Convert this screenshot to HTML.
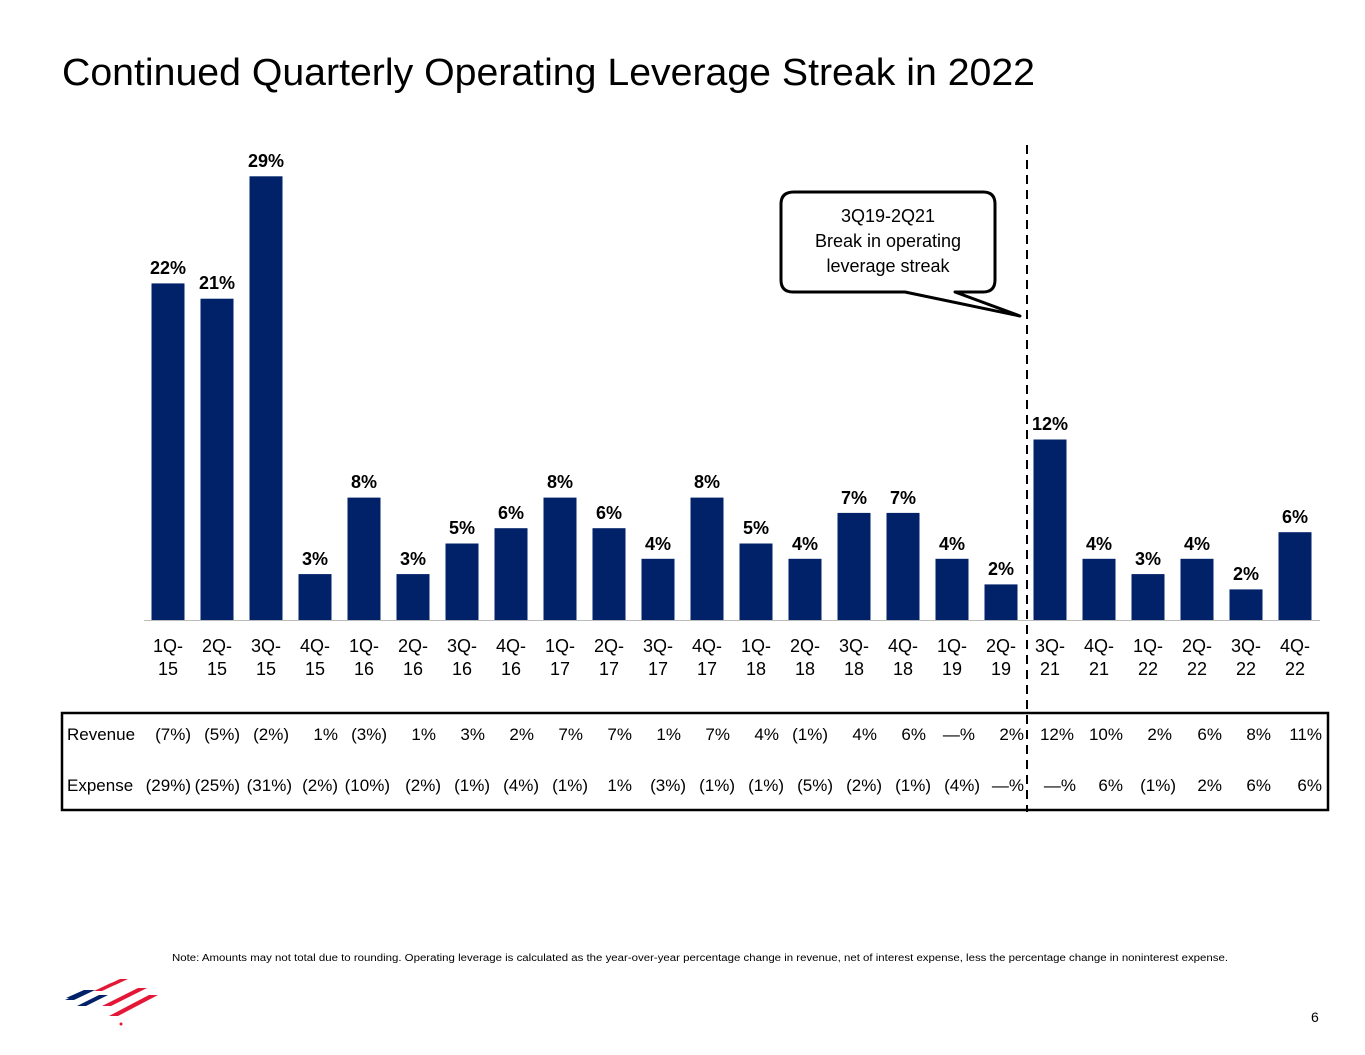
<!DOCTYPE html>
<html><head><meta charset="utf-8"><style>
body{margin:0;background:#fff;}
svg{display:block;font-family:"Liberation Sans",sans-serif;}
</style></head><body>
<svg width="1365" height="1055" viewBox="0 0 1365 1055">
<text x="62" y="85" font-size="38" fill="#000" textLength="973" lengthAdjust="spacingAndGlyphs">Continued Quarterly Operating Leverage Streak in 2022</text>
<g fill="#012169">
<rect x="151.5" y="283.4" width="33" height="336.6"/>
<rect x="200.5" y="298.7" width="33" height="321.3"/>
<rect x="249.5" y="176.3" width="33" height="443.7"/>
<rect x="298.5" y="574.1" width="33" height="45.9"/>
<rect x="347.5" y="497.6" width="33" height="122.4"/>
<rect x="396.5" y="574.1" width="33" height="45.9"/>
<rect x="445.5" y="543.5" width="33" height="76.5"/>
<rect x="494.5" y="528.2" width="33" height="91.8"/>
<rect x="543.5" y="497.6" width="33" height="122.4"/>
<rect x="592.5" y="528.2" width="33" height="91.8"/>
<rect x="641.5" y="558.8" width="33" height="61.2"/>
<rect x="690.5" y="497.6" width="33" height="122.4"/>
<rect x="739.5" y="543.5" width="33" height="76.5"/>
<rect x="788.5" y="558.8" width="33" height="61.2"/>
<rect x="837.5" y="512.9" width="33" height="107.1"/>
<rect x="886.5" y="512.9" width="33" height="107.1"/>
<rect x="935.5" y="558.8" width="33" height="61.2"/>
<rect x="984.5" y="584.4" width="33" height="35.6"/>
<rect x="1033.5" y="439.5" width="33" height="180.5"/>
<rect x="1082.5" y="558.8" width="33" height="61.2"/>
<rect x="1131.5" y="574.1" width="33" height="45.9"/>
<rect x="1180.5" y="558.8" width="33" height="61.2"/>
<rect x="1229.5" y="589.4" width="33" height="30.6"/>
<rect x="1278.5" y="532.2" width="33" height="87.8"/>
</g>
<line x1="144" y1="620.5" x2="1320" y2="620.5" stroke="#bbb" stroke-width="1"/>
<g font-size="18" font-weight="bold" text-anchor="middle" fill="#000">
<text x="168" y="274">22%</text><text x="217" y="289">21%</text><text x="266" y="167">29%</text>
<text x="315" y="565">3%</text><text x="364" y="488">8%</text><text x="413" y="565">3%</text>
<text x="462" y="534">5%</text><text x="511" y="519">6%</text><text x="560" y="488">8%</text>
<text x="609" y="519">6%</text><text x="658" y="550">4%</text><text x="707" y="488">8%</text>
<text x="756" y="534">5%</text><text x="805" y="550">4%</text><text x="854" y="504">7%</text>
<text x="903" y="504">7%</text><text x="952" y="550">4%</text><text x="1001" y="575">2%</text>
<text x="1050" y="430">12%</text><text x="1099" y="550">4%</text><text x="1148" y="565">3%</text>
<text x="1197" y="550">4%</text><text x="1246" y="580">2%</text><text x="1295" y="523">6%</text>
</g>
<g font-size="18" text-anchor="middle" fill="#000">
<text x="168" y="652">1Q-</text><text x="168" y="675">15</text>
<text x="217" y="652">2Q-</text><text x="217" y="675">15</text>
<text x="266" y="652">3Q-</text><text x="266" y="675">15</text>
<text x="315" y="652">4Q-</text><text x="315" y="675">15</text>
<text x="364" y="652">1Q-</text><text x="364" y="675">16</text>
<text x="413" y="652">2Q-</text><text x="413" y="675">16</text>
<text x="462" y="652">3Q-</text><text x="462" y="675">16</text>
<text x="511" y="652">4Q-</text><text x="511" y="675">16</text>
<text x="560" y="652">1Q-</text><text x="560" y="675">17</text>
<text x="609" y="652">2Q-</text><text x="609" y="675">17</text>
<text x="658" y="652">3Q-</text><text x="658" y="675">17</text>
<text x="707" y="652">4Q-</text><text x="707" y="675">17</text>
<text x="756" y="652">1Q-</text><text x="756" y="675">18</text>
<text x="805" y="652">2Q-</text><text x="805" y="675">18</text>
<text x="854" y="652">3Q-</text><text x="854" y="675">18</text>
<text x="903" y="652">4Q-</text><text x="903" y="675">18</text>
<text x="952" y="652">1Q-</text><text x="952" y="675">19</text>
<text x="1001" y="652">2Q-</text><text x="1001" y="675">19</text>
<text x="1050" y="652">3Q-</text><text x="1050" y="675">21</text>
<text x="1099" y="652">4Q-</text><text x="1099" y="675">21</text>
<text x="1148" y="652">1Q-</text><text x="1148" y="675">22</text>
<text x="1197" y="652">2Q-</text><text x="1197" y="675">22</text>
<text x="1246" y="652">3Q-</text><text x="1246" y="675">22</text>
<text x="1295" y="652">4Q-</text><text x="1295" y="675">22</text>
</g>
<rect x="62" y="713" width="1266" height="97" fill="none" stroke="#000" stroke-width="2.5"/>
<g font-size="17" fill="#000">
<text x="67" y="740">Revenue</text><text x="67" y="791">Expense</text>
</g>
<g font-size="17" text-anchor="end" fill="#000">
<text x="191" y="740">(7%)</text><text x="240" y="740">(5%)</text><text x="289" y="740">(2%)</text><text x="338" y="740">1%</text>
<text x="387" y="740">(3%)</text><text x="436" y="740">1%</text><text x="485" y="740">3%</text><text x="534" y="740">2%</text>
<text x="583" y="740">7%</text><text x="632" y="740">7%</text><text x="681" y="740">1%</text><text x="730" y="740">7%</text>
<text x="779" y="740">4%</text><text x="828" y="740">(1%)</text><text x="877" y="740">4%</text><text x="926" y="740">6%</text>
<text x="975" y="740">—%</text><text x="1024" y="740">2%</text><text x="1074" y="740">12%</text><text x="1123" y="740">10%</text>
<text x="1172" y="740">2%</text><text x="1222" y="740">6%</text><text x="1271" y="740">8%</text><text x="1322" y="740">11%</text>
<text x="191" y="791">(29%)</text><text x="240" y="791">(25%)</text><text x="292" y="791">(31%)</text><text x="338" y="791">(2%)</text>
<text x="390" y="791">(10%)</text><text x="441" y="791">(2%)</text><text x="490" y="791">(1%)</text><text x="539" y="791">(4%)</text>
<text x="588" y="791">(1%)</text><text x="632" y="791">1%</text><text x="686" y="791">(3%)</text><text x="735" y="791">(1%)</text>
<text x="784" y="791">(1%)</text><text x="833" y="791">(5%)</text><text x="882" y="791">(2%)</text><text x="931" y="791">(1%)</text>
<text x="980" y="791">(4%)</text><text x="1024" y="791">—%</text><text x="1076" y="791">—%</text><text x="1123" y="791">6%</text>
<text x="1176" y="791">(1%)</text><text x="1222" y="791">2%</text><text x="1271" y="791">6%</text><text x="1322" y="791">6%</text>
</g>
<line x1="1027" y1="145" x2="1027" y2="812" stroke="#000" stroke-width="2" stroke-dasharray="9,6"/>
<path d="M794,192 H983 Q995,192 995,204 V280 Q995,292 983,292 H955 L1020,316 L905,292 H793 Q781,292 781,280 V204 Q781,192 794,192 Z" fill="#fff" stroke="#000" stroke-width="3" stroke-linejoin="round"/>
<g font-size="18" text-anchor="middle" fill="#000">
<text x="888" y="222">3Q19-2Q21</text><text x="888" y="247">Break in operating</text><text x="888" y="272">leverage streak</text>
</g>
<text x="172" y="961" font-size="10" fill="#000" textLength="1056" lengthAdjust="spacingAndGlyphs">Note: Amounts may not total due to rounding. Operating leverage is calculated as the year-over-year percentage change in revenue, net of interest expense, less the percentage change in noninterest expense.</text>
<text x="1311" y="1022" font-size="14" fill="#000">6</text>
<g>
<polygon points="66,998 84,990 93,990 75,998" fill="#012169" transform="translate(0,0)"/>
<polygon points="65,1000 86,990 95,990 74,1000" fill="#012169"/>
<polygon points="77,1006 99,995 108,995 86,1006" fill="#012169"/>
<polygon points="94,991 111,983 119,983 102,991" fill="#e31837"/>
<polygon points="107,985 120,979 128,979 115,985" fill="#e31837"/>
<polygon points="102,1006 138,988 147,988 111,1006" fill="#e31837"/>
<polygon points="109,1016 149,995 158,995 118,1016" fill="#e31837"/>
<circle cx="121" cy="1024" r="1.5" fill="#e31837"/>
</g>
</svg>
</body></html>
